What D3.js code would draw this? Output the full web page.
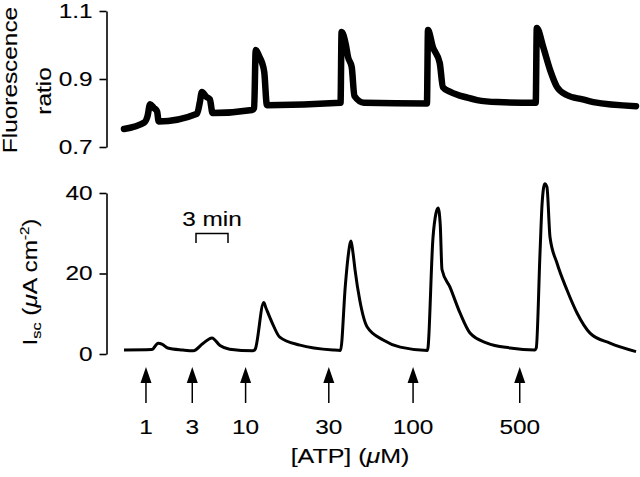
<!DOCTYPE html>
<html>
<head>
<meta charset="utf-8">
<script src="https://cdn.jsdelivr.net/npm/d3@7"></script>
<style>
  body { margin: 0; background: #fff; }
  text { font-family: "Liberation Sans", Arial, sans-serif; fill: #000; stroke: #000; stroke-width: 0.12px; }
</style>
</head>
<body>
<div id="chart"></div>
<script>
// fluorescence ratio trace, [time (min), ratio]
var fluoTrace = [
  [0, 0.753], [1.9, 0.772], [2.2, 0.79], [2.45, 0.826], [2.8, 0.815], [3.1, 0.805],
  [3.25, 0.775], [6.85, 0.798], [7.1, 0.83], [7.3, 0.862], [7.7, 0.848], [8.05, 0.84],
  [8.3, 0.80], [12.0, 0.809], [12.2, 0.815], [12.35, 0.985], [12.7, 0.965], [12.95, 0.947],
  [13.15, 0.92], [13.4, 0.823], [20.3, 0.83], [20.4, 1.038], [20.8, 1.0], [21.0, 0.965],
  [21.35, 0.935], [21.6, 0.85], [22.5, 0.83], [28.4, 0.828], [28.5, 1.044], [28.95, 0.994],
  [29.6, 0.947], [29.9, 0.876], [30.6, 0.862], [32.2, 0.845], [33.1, 0.838], [35, 0.832],
  [38.6, 0.83], [38.7, 1.05], [39.3, 0.994], [39.95, 0.926], [40.6, 0.876], [41.5, 0.853],
  [43.0, 0.84], [44.0, 0.832], [48, 0.82]
];
// short circuit current trace, [time (min), Isc]
var iscTrace = [
  [0, 1.0], [2.6, 1.1], [3.2, 2.7], [3.6, 2.4], [4.1, 1.5], [5.5, 1.0], [6.5, 0.8],
  [7.4, 2.6], [8.25, 4.0], [9.0, 2.1], [9.9, 1.2], [12.1, 0.8], [12.3, 1.2], [13.1, 12.8],
  [13.3, 11.5], [13.9, 7.7], [14.6, 4.2], [16.5, 2.2], [19.6, 1.0], [20.3, 0.9],
  [20.75, 17], [21.0, 24], [21.28, 28.1], [21.45, 25.5], [21.66, 20.9], [22.1, 13.4],
  [22.8, 6.7], [24.3, 3.5], [25.9, 1.7], [28.45, 0.9], [28.97, 29], [29.25, 35],
  [29.45, 36.3], [29.65, 32], [29.81, 21], [30.56, 16.6], [31.5, 10.2], [32.44, 5.2],
  [34.03, 2.7], [36.19, 1.5], [38.5, 1.0], [38.65, 1.5], [39.0, 25], [39.2, 37.5],
  [39.45, 42.3], [39.65, 41.5], [39.94, 29], [40.59, 22.6], [41.53, 15.9], [42.47, 10.2],
  [43.69, 5.2], [45.56, 2.7], [48, 0.6]
];
var doses = ["1", "3", "10", "30", "100", "500"];
var doseTimes = [2.06, 6.4, 11.4, 19.2, 27.1, 37.1];
var ratioTicks = [0.7, 0.9, 1.1];
var iscTicks = [0, 20, 40];
var scaleBar = [6.75, 9.75]; // 3 min

var width = 640, height = 477;
var sx = 1.25; // the figure's lettering is wide
var fs = 19.5;

var svg = d3.select("#chart").append("svg")
  .attr("width", width)
  .attr("height", height);

// scales
var x = d3.scaleLinear().domain([0, 48]).range([124, 636]);
var yTop = d3.scaleLinear().domain([0.7, 1.1]).range([147, 11]);
var yBot = d3.scaleLinear().domain([0, 40]).range([354, 193]);

// axes
function drawAxis(scale, ticks, fmt) {
  var g = svg.append("g")
    .attr("transform", "translate(106.5,0)")
    .call(d3.axisLeft(scale).tickValues(ticks).tickFormat(fmt)
      .tickSize(7).tickSizeOuter(0).tickPadding(7));
  g.select(".domain").attr("stroke", "#000").attr("stroke-width", 1.6);
  g.selectAll(".tick line").attr("stroke", "#000").attr("stroke-width", 1.6);
  g.selectAll(".tick text")
    .attr("x", -14 / sx)
    .attr("transform", "scale(" + sx + ",1)")
    .attr("font-size", fs)
    .attr("font-family", "Liberation Sans, Arial, sans-serif")
    .attr("fill", "#000");
}
drawAxis(yTop, ratioTicks, d3.format(".1f"));
drawAxis(yBot, iscTicks, d3.format("d"));

// traces
var lineTop = d3.line().x(d => x(d[0])).y(d => yTop(d[1])).curve(d3.curveMonotoneX);
var lineBot = d3.line().x(d => x(d[0])).y(d => yBot(d[1])).curve(d3.curveMonotoneX);

svg.append("path")
  .datum(fluoTrace)
  .attr("d", lineTop)
  .attr("fill", "none")
  .attr("stroke", "#000")
  .attr("stroke-width", 6.5)
  .attr("stroke-linejoin", "round")
  .attr("stroke-linecap", "round");

svg.append("path")
  .datum(iscTrace)
  .attr("d", lineBot)
  .attr("fill", "none")
  .attr("stroke", "#000")
  .attr("stroke-width", 3)
  .attr("stroke-linejoin", "round");

// stretched text helper
function label(px, py, str, anchor, rot) {
  var g = svg.append("g")
    .attr("transform", "translate(" + px + "," + py + ") rotate(" + (rot || 0) + ") scale(" + sx + ",1)");
  return g.append("text")
    .attr("text-anchor", anchor || "middle")
    .attr("font-size", fs)
    .text(str);
}

// axis titles
label(17, 80, "Fluorescence", "middle", -90);
label(51, 91, "ratio", "middle", -90);

var isc = svg.append("g")
  .attr("transform", "translate(37,282) rotate(-90) scale(" + sx + ",1)")
  .append("text")
  .attr("text-anchor", "middle")
  .attr("font-size", fs);
isc.append("tspan").text("I");
isc.append("tspan").attr("font-size", 13).attr("dy", 4).text("sc");
isc.append("tspan").attr("dy", -4).text(" (");
isc.append("tspan").attr("font-style", "italic").text("\u03bc");
isc.append("tspan").text("A cm");
isc.append("tspan").attr("font-size", 12).attr("dy", -8).text("-2");
isc.append("tspan").attr("dy", 8).text(")");

// scale bar
var sb = svg.append("g");
sb.append("path")
  .attr("d", "M" + x(scaleBar[0]) + ",243V233.5H" + x(scaleBar[1]) + "V243")
  .attr("fill", "none")
  .attr("stroke", "#000")
  .attr("stroke-width", 1.5);
label((x(scaleBar[0]) + x(scaleBar[1])) / 2, 226, "3 min", "middle");

// ATP additions
var arrows = svg.append("g");
doseTimes.forEach(function(t, i) {
  var ax = x(t);
  arrows.append("path")
    .attr("d", "M" + ax + ",367L" + (ax - 5.5) + ",383L" + (ax + 5.5) + ",383Z")
    .attr("fill", "#000");
  arrows.append("line")
    .attr("x1", ax).attr("x2", ax)
    .attr("y1", 382).attr("y2", 403)
    .attr("stroke", "#000")
    .attr("stroke-width", 1.5);
  label(ax, 434, doses[i], "middle");
});

var atp = svg.append("g")
  .attr("transform", "translate(350,463) scale(" + sx + ",1)")
  .append("text")
  .attr("text-anchor", "middle")
  .attr("font-size", 20);
atp.append("tspan").text("[ATP] (");
atp.append("tspan").attr("font-style", "italic").text("\u03bc");
atp.append("tspan").text("M)");
</script>
</body>
</html>
